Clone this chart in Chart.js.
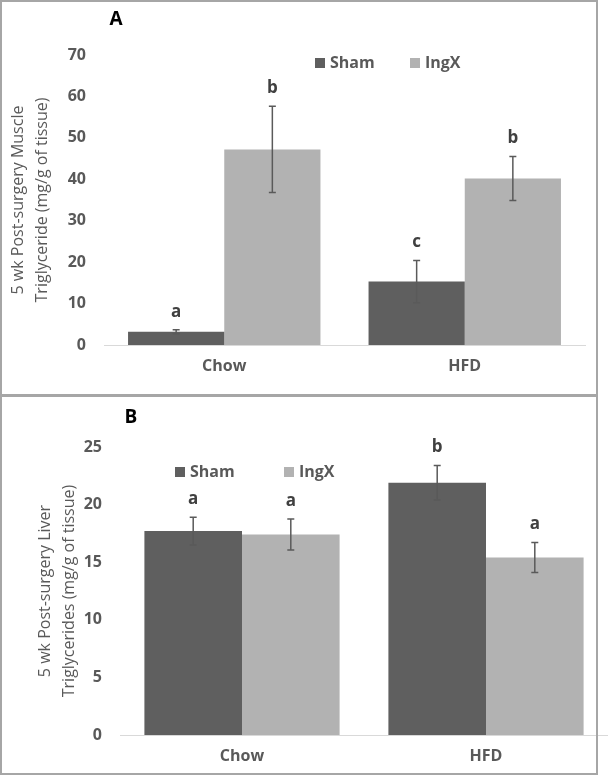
<!DOCTYPE html>
<html>
<head>
<meta charset="utf-8">
<script src="https://cdn.jsdelivr.net/npm/chart.js@4"></script>
<style>
  body { margin: 0; background: #fff; }
  .wrap { position: relative; width: 608px; height: 776px; }
  .panel { position: absolute; left: 0; width: 608px; }
  .frame { position: absolute; left: 0; width: 598px; box-sizing: border-box; border: 2px solid #a6a6a6; pointer-events: none; }
</style>
</head>
<body>
<div class="wrap">
  <div class="panel" style="top:0;height:395px"><canvas id="muscleChart"></canvas></div>
  <div class="panel" style="top:395px;height:381px"><canvas id="liverChart"></canvas></div>
  <div class="frame" style="top:0;height:397px"></div>
  <div class="frame" style="top:394px;height:381px"></div>
</div>
<script>
// Data
const categories = ["Chow", "HFD"];

const muscleSham = [3.2, 15.3];
const muscleShamErr = [0.5, 5.1];
const muscleShamLetters = ["a", "c"];
const muscleIngX = [47.2, 40.2];
const muscleIngXErr = [10.4, 5.3];
const muscleIngXLetters = ["b", "b"];

const liverSham = [17.7, 21.9];
const liverShamErr = [1.2, 1.5];
const liverShamLetters = ["a", "b"];
const liverIngX = [17.4, 15.4];
const liverIngXErr = [1.35, 1.3];
const liverIngXLetters = ["a", "a"];

const muscleAxis = { max: 70, step: 10 };
const liverAxis = { max: 25, step: 5 };

const SHAM_COLOR = "#5f5f5f";
const INGX_COLOR = "#b2b2b2";
const TEXT_COLOR = "#595959";
const FONT = "'Open Sans', sans-serif";

// Error bars, significance letters, legend and panel letter
const annotatePlugin = {
  id: "annotate",
  afterDatasetsDraw(chart, args, opts) {
    const ctx = chart.ctx;
    const y = chart.scales.y;
    ctx.save();
    chart.data.datasets.forEach((ds, i) => {
      const meta = chart.getDatasetMeta(i);
      meta.data.forEach((bar, j) => {
        const v = ds.data[j];
        const e = ds.errors[j];
        const top = y.getPixelForValue(v + e);
        const bot = y.getPixelForValue(v - e);
        ctx.strokeStyle = "#5a5a5a";
        ctx.lineWidth = 1.5;
        ctx.beginPath();
        ctx.moveTo(bar.x, top);
        ctx.lineTo(bar.x, bot);
        ctx.moveTo(bar.x - 3.5, top);
        ctx.lineTo(bar.x + 3.5, top);
        ctx.moveTo(bar.x - 3.5, bot);
        ctx.lineTo(bar.x + 3.5, bot);
        ctx.stroke();

        ctx.fillStyle = "#404040";
        ctx.font = "bold 17px " + FONT;
        ctx.textAlign = "center";
        ctx.textBaseline = "middle";
        ctx.fillText(ds.letters[j], bar.x, top - 18);
      });
    });

    // legend
    ctx.font = "bold 16px " + FONT;
    ctx.textAlign = "left";
    ctx.textBaseline = "middle";
    chart.data.datasets.forEach((ds, i) => {
      const [lx, ly] = opts.legend[i];
      ctx.fillStyle = ds.backgroundColor;
      ctx.fillRect(lx, ly - 5, 10, 10);
      ctx.fillStyle = TEXT_COLOR;
      ctx.fillText(ds.label, lx + 15, ly);
    });

    // panel letter
    ctx.fillStyle = "#000";
    ctx.font = "bold 19px " + FONT;
    ctx.textAlign = "center";
    ctx.fillText(opts.panel, opts.panelPos[0], opts.panelPos[1]);
    ctx.restore();
  },
};

function makeChart(id, cfg) {
  const ctx = document.getElementById(id).getContext("2d");
  return new Chart(ctx, {
    type: "bar",
    data: {
      labels: categories,
      datasets: [
        {
          label: "Sham",
          data: cfg.sham,
          errors: cfg.shamErr,
          letters: cfg.shamLetters,
          backgroundColor: SHAM_COLOR,
          categoryPercentage: 0.8,
          barPercentage: 1.0,
        },
        {
          label: "IngX",
          data: cfg.ingx,
          errors: cfg.ingxErr,
          letters: cfg.ingxLetters,
          backgroundColor: INGX_COLOR,
          categoryPercentage: 0.8,
          barPercentage: 1.0,
        },
      ],
    },
    options: {
      responsive: true,
      maintainAspectRatio: false,
      animation: false,
      layout: {
        padding: { top: cfg.padTop, right: cfg.padRight, bottom: 0, left: 0 },
      },
      plugins: {
        legend: { display: false },
        tooltip: { enabled: false },
        annotate: {
          panel: cfg.panel,
          panelPos: cfg.panelPos,
          legend: cfg.legend,
        },
      },
      scales: {
        x: {
          grid: { display: false, drawTicks: false },
          border: { display: true, color: "#d9d9d9", width: 1 },
          ticks: {
            color: TEXT_COLOR,
            font: { family: FONT, size: 16, weight: "bold" },
            padding: cfg.xPad,
          },
          afterFit(scale) {
            scale.height = cfg.xHeight;
          },
        },
        y: {
          min: 0,
          max: cfg.axis.max,
          grid: { display: false, drawTicks: false },
          border: { display: false },
          ticks: {
            stepSize: cfg.axis.step,
            color: TEXT_COLOR,
            font: { family: FONT, size: 16, weight: "bold" },
            padding: 18,
          },
          title: {
            display: true,
            text: cfg.yTitle,
            color: TEXT_COLOR,
            font: { family: FONT, size: 16, weight: "normal", lineHeight: 1.5 },
            padding: { top: cfg.titlePad, bottom: 0 },
          },
          afterFit(scale) {
            scale.width = cfg.yWidth;
          },
        },
      },
    },
    plugins: [annotatePlugin],
  });
}

makeChart("muscleChart", {
  sham: muscleSham,
  shamErr: muscleShamErr,
  shamLetters: muscleShamLetters,
  ingx: muscleIngX,
  ingxErr: muscleIngXErr,
  ingxLetters: muscleIngXLetters,
  axis: muscleAxis,
  yTitle: ["5 wk Post-surgery Muscle", "Triglyceride (mg/g of tissue)"],
  panel: "A",
  panelPos: [116, 20],
  legend: [[315, 63], [410, 63]],
  padTop: 55,
  padRight: 23,
  xHeight: 50,
  xPad: 12,
  yWidth: 104,
  titlePad: 6,
});

makeChart("liverChart", {
  sham: liverSham,
  shamErr: liverShamErr,
  shamLetters: liverShamLetters,
  ingx: liverIngX,
  ingxErr: liverIngXErr,
  ingxLetters: liverIngXLetters,
  axis: liverAxis,
  yTitle: ["5 wk Post-surgery Liver", "Triglycerides (mg/g of tissue)"],
  panel: "B",
  panelPos: [131, 23],
  legend: [[175, 77], [284, 77]],
  padTop: 52,
  padRight: 0,
  xHeight: 41,
  xPad: 12,
  yWidth: 120,
  titlePad: 33,
});
</script>
</body>
</html>
